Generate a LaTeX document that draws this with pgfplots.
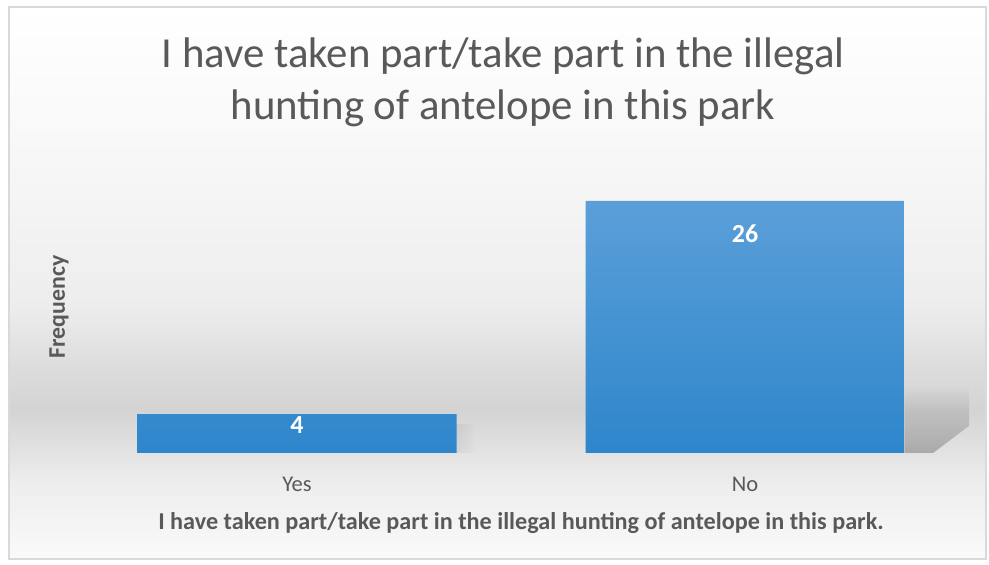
\documentclass[border=0pt]{standalone}
\usepackage{pgfplots}
\pgfplotsset{compat=1.18}
\usepackage{fontspec}
\setmainfont{Carlito}
\usetikzlibrary{fadings}

\definecolor{txtgrey}{HTML}{595959}
\definecolor{bartop}{HTML}{5B9FD9}
\definecolor{barbot}{HTML}{2E86CB}

% chart area background, bottom (25bp) to top (75bp)
\pgfdeclareverticalshading{chartbg}{100bp}{
  color(0bp)=(white!98!black);
  color(25bp)=(white!98!black);
  color(32bp)=(white!93!black);
  color(38.5bp)=(white!83!black);
  color(42bp)=(white!86!black);
  color(48bp)=(white!93!black);
  color(58bp)=(white!96!black);
  color(66bp)=(white!98!black);
  color(75bp)=(white);
  color(100bp)=(white)}

\pgfplotstableread{
x y shift
0 4 10.5
1 26 32.5
}\freqdata

\begin{document}
\begin{tikzpicture}[x=1pt,y=1pt]
% page and chart frame (1 px = 1 pt, origin bottom left)
\path (0,0) rectangle (989,565);
\shade[shading=chartbg, draw=white!85!black, line width=1.2pt] (9,6) rectangle (986,558);

% title
\node[anchor=base, text=txtgrey, font=\fontsize{42.8}{50}\selectfont] at (503,497) {I have taken part/take part in the illegal};
\node[anchor=base, text=txtgrey, font=\fontsize{42.8}{50}\selectfont] at (503,445) {hunting of antelope in this park};

\begin{axis}[
    at={(73pt,112pt)}, anchor=south west,
    scale only axis,
    width=896pt, height=291pt,
    xmin=-0.5, xmax=1.5,
    ymin=0, ymax=30,
    hide y axis,
    axis x line*=bottom,
    axis line style={draw=none},
    major tick length=0pt,
    xtick={0,1},
    xticklabels={Yes,No},
    xticklabel style={anchor=base, yshift=-39pt, text=txtgrey,
        font=\fontsize{22.5}{26}\selectfont},
    ybar, bar width=319pt,
    clip=false,
    /pgf/number format/assume math mode=true,
]
% cast shadow behind the tall bar
\fill[black, opacity=0.25, path fading=north]
    (axis cs:1.356,0) -- (axis cs:1.356,6.9) -- (axis cs:1.5,6.9) -- (axis cs:1.5,2.8) -- (axis cs:1.42,0) -- cycle;
\fill[black, opacity=0.06, path fading=east]
    (axis cs:0.356,0) -- (axis cs:0.356,3) -- (axis cs:0.40,3) -- (axis cs:0.40,0) -- cycle;

\addplot[draw=none, top color=bartop, bottom color=barbot,
    visualization depends on={\thisrow{shift} \as \lshift},
    nodes near coords,
    nodes near coords style={anchor=center, yshift=-\lshift pt, text=white,
        font=\bfseries\fontsize{26}{30}\selectfont},
] table[x=x, y=y] {\freqdata};
\end{axis}

% axis titles
\node[rotate=90, text=txtgrey, font=\bfseries\fontsize{23.8}{28}\selectfont] at (59,258) {Frequency};
\node[anchor=base, text=txtgrey, font=\bfseries\fontsize{24.2}{28}\selectfont] at (521,35)
    {I have taken part/take part in the illegal hunting of antelope in this park.};
\end{tikzpicture}
\end{document}
